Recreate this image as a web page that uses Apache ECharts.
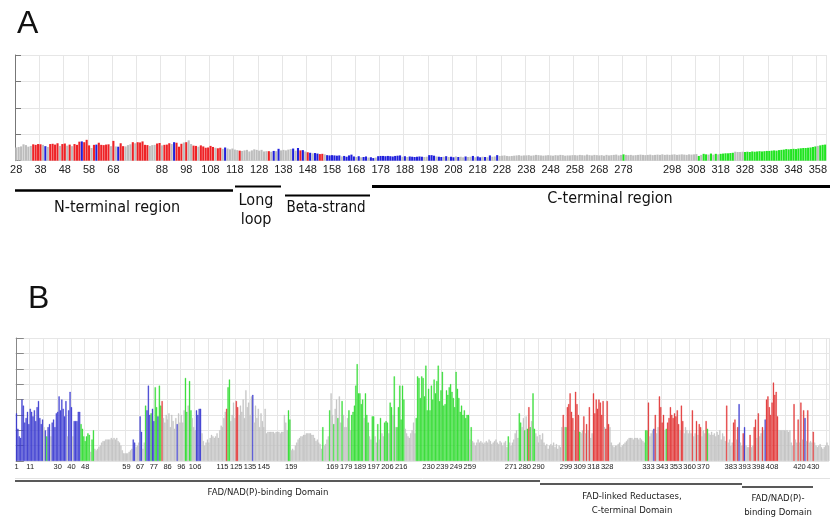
<!DOCTYPE html>
<html><head><meta charset="utf-8">
<script src="https://cdn.jsdelivr.net/npm/echarts@6/dist/echarts.min.js"></script>
<style>html,body{margin:0;padding:0;background:#fff}#c{width:830px;height:519px}</style>
</head><body><div id="c"></div>
<script>
// ---------- Panel A (residues 28..361) ----------
const aStart = 28;
const aValues = [
 5.0,5.2,5.4,6.2,5.9,5.3,5.6,6.2,6.0,6.3,
 6.2,6.0,5.5,5.2,6.3,6.4,6.1,6.6,5.6,6.3,
 6.5,5.7,6.1,5.5,6.3,6.0,7.2,7.3,7.0,7.9,
 5.8,4.8,6.0,6.1,6.8,6.0,5.9,6.1,6.2,5.5,
 7.5,5.4,5.3,6.6,5.5,5.4,5.9,6.2,7.0,6.6,
 7.0,6.9,7.3,6.0,5.9,5.6,5.9,6.0,6.5,6.7,
 5.8,6.0,6.1,6.6,6.3,7.0,6.8,5.3,6.4,6.9,
 7.0,7.7,6.3,5.7,5.6,5.3,5.8,5.4,4.9,5.0,
 5.6,5.2,4.9,4.7,4.9,4.5,5.0,4.6,4.3,4.6,
 4.2,4.0,3.8,3.7,3.9,4.1,3.5,3.9,4.3,4.1,
 3.8,4.1,3.5,3.6,3.6,3.4,3.7,3.6,4.5,3.9,
 4.1,3.9,4.2,4.4,4.6,3.8,4.8,3.9,4.0,3.5,
 3.2,3.0,2.8,2.9,2.7,2.5,2.6,2.4,2.1,2.0,
 2.1,2.0,1.9,2.0,1.6,1.8,1.5,2.0,2.3,1.6,
 1.4,1.7,1.3,1.4,1.6,1.2,1.3,1.0,1.2,1.7,
 1.8,1.8,1.7,1.8,1.7,1.6,1.8,1.9,2.0,1.5,
 1.7,1.4,1.6,1.5,1.4,1.5,1.6,1.5,1.4,1.5,
 2.1,2.1,1.9,1.6,1.5,1.4,1.5,1.7,1.4,1.5,
 1.3,1.6,1.4,1.5,1.3,1.6,1.4,1.5,1.8,1.3,
 1.6,1.3,1.5,1.4,1.3,2.0,1.5,1.6,2.1,1.8,
 1.9,2.0,1.8,1.7,1.8,1.9,2.0,2.1,1.9,2.0,
 2.0,2.1,1.9,2.0,2.2,2.1,2.0,1.9,2.0,2.1,
 2.0,1.9,2.1,2.0,2.2,2.1,1.9,2.0,2.0,2.1,
 2.1,2.0,2.2,2.1,2.0,2.3,2.1,2.0,2.2,2.1,
 2.0,2.1,1.9,2.2,2.0,2.1,2.2,2.3,2.0,2.2,
 2.4,2.2,2.1,2.2,2.0,2.1,2.2,2.3,2.2,2.1,
 2.2,2.3,2.1,2.2,2.3,2.2,2.4,2.2,2.3,2.2,
 2.3,2.4,2.2,2.3,2.4,2.3,2.2,2.4,2.3,2.4,
 2.5,1.8,2.2,2.6,2.4,2.3,2.7,2.3,2.6,2.4,
 2.6,2.7,2.8,2.8,2.9,3.0,3.4,3.3,3.3,3.4,
 3.3,3.4,3.3,3.5,3.4,3.5,3.6,3.5,3.6,3.7,
 3.7,3.8,3.9,3.8,4.0,4.1,4.2,4.4,4.3,4.4,
 4.5,4.4,4.6,4.7,4.8,4.8,4.9,5.0,5.2,5.4,
 5.6,5.8,6.0,6.1
];
// G gray, R red, B blue, N green
const aColors =
 "GGGGGGGRRR"+"RGBGRRRRGR"+"RGRGRRRBRR"+"RGRBRRRRRG"+"RGBRRGGGRG"+
 "RRRRRGGGRR"+"GRRRGBRRRG"+"RGGRRGRRRR"+"RRGRRGBGGG"+"GGRGGGGGGG"+
 "GGGGRGBGBG"+"GGGGBGBRBG"+"RBGBBRRGBB"+"BBBBGBBBBB"+"GBGBBGBBGB"+
 "BBBBBBBBBG"+"BGBBBBBBGG"+"BBBGBBGBGB"+"BGBGGBGGBG"+"BBGBGBGGBG"+
 "GGGGGGGGGG"+"GGGGGGGGGG"+"GGGGGGGGGG"+"GGGGGGGGGG"+"GGGGGGGGGG"+
 "NGGGGGGGGG"+"GGGGGGGGGG"+"GGGGGGGGGG"+"GNGNNGNGNG"+"NNNNNNGGGG"+
 "NNNNNNNNNN"+"NNNNNNNNNN"+"NNNNNNNNNN"+"GNNN";
const aTickLabels = ['28','38','48','58','68','','88','98','108','118','128','138','148','158','168','178','188','198','208','218','228','238','248','258','268','278','','298','308','318','328','338','348','358'];

// ---------- Panel B (alignment positions) ----------
const bValues = [
 31,21,16,15,40,36,25,28,32,24,
 34,32,29,33,26,35,39,28,24,27,
 22,20,16,22,24,16,25,27,22,31,
 32,42,33,40,34,29,39,16,33,45,
 35,16,26,26,26,32,32,24,21,16,
 13,16,18,17,6,14,20,8,7,8,
 9,10,12,13,13,14,14,14,14,15,
 14,15,14,15,13,12,10,7,5,5,
 5,5,6,7,8,14,12,9,10,12,
 29,19,8,12,36,33,49,30,31,34,
 26,48,35,29,49,36,39,28,25,30,
 27,31,22,30,26,21,28,24,31,25,
 30,25,33,54,32,36,52,33,28,22,
 20,33,30,34,34,18,13,10,12,14,
 12,15,17,16,15,16,18,15,20,23,
 22,28,32,34,48,53,26,30,38,28,
 39,35,30,36,32,40,28,46,35,38,
 30,42,43,25,36,28,34,22,31,26,
 22,34,18,19,19,19,19,19,18,19,
 19,19,18,19,19,30,25,20,33,27,
 7,8,7,10,12,14,15,16,16,17,
 17,18,18,18,18,17,17,15,13,14,
 12,11,8,22,10,11,14,16,33,44,
 30,24,34,40,28,42,25,39,30,22,
 22,28,33,20,30,32,36,49,63,44,
 44,37,40,28,44,30,25,16,14,29,
 29,16,12,24,14,28,18,16,25,26,
 25,18,38,35,30,55,22,22,35,49,
 27,49,40,21,18,16,15,18,20,25,
 18,28,55,54,41,55,54,42,62,33,
 47,33,49,40,53,44,52,62,39,46,
 58,36,37,46,43,48,50,45,41,35,
 58,47,41,32,36,30,33,28,30,30,
 14,22,13,12,10,12,14,12,13,12,
 11,12,13,12,14,13,11,12,13,14,
 12,11,13,12,10,12,13,9,16,12,
 10,12,14,18,20,15,31,25,22,28,
 20,29,21,35,22,26,44,21,18,16,
 12,17,14,18,12,10,11,8,10,11,
 10,12,9,11,8,10,9,22,30,22,
 22,35,37,44,32,28,20,45,37,30,
 19,18,20,29,18,24,20,35,15,18,
 44,31,40,34,40,38,30,39,22,21,
 39,24,22,12,10,9,10,10,11,12,
 9,10,11,12,13,14,15,15,15,14,
 15,15,15,14,15,14,13,12,20,20,
 38,16,18,20,21,30,18,22,42,35,
 25,30,20,21,25,28,35,30,28,31,
 29,33,24,20,36,26,18,22,20,18,
 20,18,33,16,18,26,17,24,22,16,
 20,18,26,21,18,17,19,17,18,16,
 19,17,20,14,18,16,13,36,12,14,
 10,12,25,27,14,22,37,12,10,18,
 22,10,9,9,17,9,10,22,27,15,
 31,16,18,22,20,27,40,42,35,30,
 38,51,43,45,29,20,20,20,20,20,
 20,20,19,20,12,10,37,14,12,27,
 12,38,14,33,28,13,33,12,13,12,
 19,12,10,9,10,11,9,8,9,10,
 12,10
];
const bColors =
 "BBBBBBBBBB"+"BBBBBBBBBB"+"GBNBBGBBBB"+"BBBBBBBGBB"+"BGBBBBBNNN"+
 "NNNNGNNGGG"+"GGGGGGGGGG"+"GGGGGGGGGG"+"GGGGGBBGGG"+"BBGGNBBBNB"+
 "BNNBNNRGGG"+"GGGGGGGBGG"+"GGGNNGNNGG"+"GBBBBGGGGG"+"GGGGGGGGGG"+
 "GGGRNNGGGG"+"RRGGGGGGGG"+"GGBGGGGGGG"+"GGGGGGGGGG"+"GGGGGGGGNN"+
 "GGGGGGGGGG"+"GGGGGGGGGG"+"GGGNGGGGNG"+"GNGGNGGNGG"+"GGNGNNNNNN"+
 "NNNGNNNGGN"+"NGGNGNGGNN"+"NGNNGNGNNN"+"NNNGGGGGGG"+"GNNNNNNNNN"+
 "NNNNNNNNNN"+"NNNNNNNNNN"+"NNNNNNNNNN"+"GNGGGGGGGG"+"GGGGGGGGGG"+
 "GGGGGGGGNG"+"GGGGGGNNGG"+"NGNRNGNNGG"+"GGGGGGGGGG"+"GGGGGGGGRG"+
 "NRRRRRGRRR"+"NGGRGRGRGG"+"RRRRRRRRGR"+"RRGGGGGGGG"+"GGGGGGGGGG"+
 "GGGGGGGGNN"+"RGGGBRGGRR"+"RRGNRRRRRR"+"RRRGRRGGGG"+"GGRGGRGRRG"+
 "GGRNGGGGGG"+"GGGGGGGRGG"+"GGRRGRBGGR"+"BGGGRGGRRG"+"RGGRGBRRRR"+
 "RRRRRGGGGG"+"GGGGGGRGGR"+"GRGRBGRGGG"+"RGGGGGGGGG"+"GG";
const bTickLabels = ['1','11','','30','40','48','','','59','67','77','86','96','106','','115','125','135','145','','159','','','169','179','189','197','206','216','','230','239','249','259','','','271','280','290','','299','309','318','328','','','333','343','353','360','370','','383','393','398','408','','420','430',''];

const aPal = {G:'#bdbdbd', R:'#ee2226', B:'#2020dc', N:'#20e420'};
const bPal = {G:'#c2c2c2', R:'#e23434', B:'#3b3bd0', N:'#30dc30'};

const aCats = aValues.map((v,i)=>String(aStart+i));
const bCats = bValues.map((v,i)=>String(i));
const every10 = (i)=> i % 10 === 0;
const gridColor = '#e6e6e6';
const annFont = "'Liberation Sans Narrow','DejaVu Sans Condensed','Liberation Sans',sans-serif";
const tc = {align:'center', verticalAlign:'middle', textAlign:'center', textVerticalAlign:'middle'};

const chart = echarts.init(document.getElementById('c'));
chart.setOption({
  animation:false,
  backgroundColor:'#fff',
  grid:[
    {left:15, top:55, width:815, height:105.7},
    {left:15.8, top:338, width:814.2, height:123}
  ],
  xAxis:[
    {type:'category', gridIndex:0, data:aCats, boundaryGap:true,
     axisLine:{show:false}, axisTick:{show:false},
     axisLabel:{interval:every10, margin:4, fontSize:11, color:'#222', fontFamily:'Liberation Sans, Arial, sans-serif',
       formatter:(v,i)=> aTickLabels[Math.round(i/10)] || ''},
     splitLine:{show:true, interval:every10, lineStyle:{color:gridColor, width:1}}},
    {type:'category', gridIndex:1, data:bCats, boundaryGap:true,
     axisLine:{show:false}, axisTick:{show:false},
     axisLabel:{interval:every10, margin:2, fontSize:7.5, color:'#222', fontFamily:'Liberation Sans, Arial, sans-serif',
       formatter:(v,i)=> bTickLabels[Math.round(i/10)] || ''},
     splitLine:{show:true, interval:every10, lineStyle:{color:gridColor, width:1}}}
  ],
  yAxis:[
    {type:'value', gridIndex:0, min:0, max:40, interval:10,
     axisLine:{show:true, lineStyle:{color:'#777'}}, axisTick:{show:true, inside:true, length:6, lineStyle:{color:'#777'}},
     axisLabel:{show:false}, splitLine:{lineStyle:{color:gridColor}}},
    {type:'value', gridIndex:1, min:0, max:80, interval:10,
     axisLine:{show:true, lineStyle:{color:'#888'}}, axisTick:{show:true, inside:true, length:8, lineStyle:{color:'#888'}},
     axisLabel:{show:false}, splitLine:{lineStyle:{color:gridColor}}}
  ],
  series:[
    {type:'bar', xAxisIndex:0, yAxisIndex:0, barCategoryGap:'14%', silent:true,
     data:aValues.map((v,i)=>({value:v, itemStyle:{color:aPal[aColors[i]]}}))},
    {type:'bar', xAxisIndex:1, yAxisIndex:1, barCategoryGap:'10%', silent:true,
     data:bValues.map((v,i)=>({value:v, itemStyle:{color:bPal[bColors[i]], borderColor:bPal[bColors[i]], borderWidth:0.35}}))}
  ],
  graphic:[
    {type:'text', left:17, top:8, style:{text:'A', font:'32px Liberation Sans, Arial, sans-serif', fill:'#111'}},
    {type:'text', left:28, top:283, style:{text:'B', font:'32px Liberation Sans, Arial, sans-serif', fill:'#111'}},
    // Panel A domain bars
    {type:'line', shape:{x1:15,y1:190.5,x2:233,y2:190.5}, style:{stroke:'#000', lineWidth:2.5}},
    {type:'line', shape:{x1:235,y1:186.5,x2:281,y2:186.5}, style:{stroke:'#000', lineWidth:2}},
    {type:'line', shape:{x1:285,y1:195.5,x2:370,y2:195.5}, style:{stroke:'#000', lineWidth:2}},
    {type:'line', shape:{x1:372,y1:186.5,x2:830,y2:186.5}, style:{stroke:'#000', lineWidth:3}},
    {type:'text', x:117, y:208, style:Object.assign({text:'N-terminal region', font:'16px '+annFont, fill:'#111'}, tc)},
    {type:'text', x:256, y:201, style:Object.assign({text:'Long', font:'16px '+annFont, fill:'#111'}, tc)},
    {type:'text', x:256, y:220, style:Object.assign({text:'loop', font:'16px '+annFont, fill:'#111'}, tc)},
    {type:'text', x:326, y:208, style:Object.assign({text:'Beta-strand', font:'15px '+annFont, fill:'#111'}, tc)},
    {type:'text', x:610, y:199, style:Object.assign({text:'C-terminal region', font:'16px '+annFont, fill:'#111'}, tc)},
    // Panel B
    {type:'line', shape:{x1:15,y1:478.5,x2:830,y2:478.5}, style:{stroke:'#e2e2e2', lineWidth:1}},
    {type:'line', shape:{x1:15,y1:481,x2:540,y2:481}, style:{stroke:'#222', lineWidth:1.5}},
    {type:'line', shape:{x1:540,y1:484,x2:742,y2:484}, style:{stroke:'#222', lineWidth:1.5}},
    {type:'line', shape:{x1:742,y1:487,x2:813,y2:487}, style:{stroke:'#222', lineWidth:1.5}},
    {type:'text', x:268, y:493, style:Object.assign({text:'FAD/NAD(P)-binding Domain', font:'9.5px '+annFont, fill:'#222'}, tc)},
    {type:'text', x:632, y:497, style:Object.assign({text:'FAD-linked Reductases,', font:'9.5px '+annFont, fill:'#222'}, tc)},
    {type:'text', x:632, y:511, style:Object.assign({text:'C-terminal Domain', font:'9.5px '+annFont, fill:'#222'}, tc)},
    {type:'text', x:778, y:499, style:Object.assign({text:'FAD/NAD(P)-', font:'9.5px '+annFont, fill:'#222'}, tc)},
    {type:'text', x:778, y:513, style:Object.assign({text:'binding Domain', font:'9.5px '+annFont, fill:'#222'}, tc)}
  ]
});
</script></body></html>
